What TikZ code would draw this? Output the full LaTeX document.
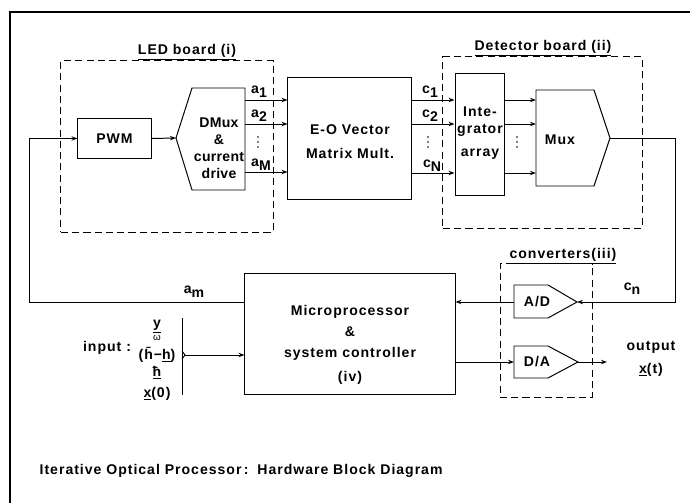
\documentclass[tikz,border=0pt]{standalone}
\usepackage{fontspec}
\setmainfont[LetterSpace=7]{Liberation Sans}
\usetikzlibrary{arrows.meta,positioning,calc}
\newcommand\lowsub[1]{\raisebox{-.5ex}{#1}}
\tikzset{
  >={Stealth[length=1.5mm,width=1.1mm]},
  block/.style={draw,line width=.7pt,inner sep=0pt},
  board/.style={draw,line width=.7pt,dash pattern=on 5pt off 3pt,inner sep=0pt},
  wire/.style={line width=.7pt},
  flow/.style={->,line width=.7pt},
  tag/.style={inner sep=1pt},
  lines/.style={align=center,inner sep=0pt},
}
\newcommand\dotcol[2]{\fill (#1,#2-5) circle (.9) (#1,#2) circle (.9) (#1,#2+5) circle (.9);}
\begin{document}
\begin{tikzpicture}[x=0.025cm,y=-0.025cm,font=\fontsize{10}{12}\selectfont\bfseries]
  \useasboundingbox (0,0) rectangle (690,503);
  \draw[line width=1.2pt] (10,503) -- (10,12) -- (690,12);

  % boards (dashed)
  \node[board,minimum width=5.3cm,minimum height=4.275cm] (led) at (167,146.5) {};
  \node[tag] (ledlab) at (187,52) {\underline{LED board (i)}};
  \node[board,minimum width=4.975cm,minimum height=4.275cm] (det) at (542.5,142.5) {};
  \node[tag] (detlab) at (543,48) {\underline{Detector board (ii)}};
  \node[board,minimum width=2.3cm,minimum height=3.325cm] (conv) at (546,330.5) {};
  \node[tag] (convlab) at (563,256) {\underline{converters(iii)}};

  % blocks
  \node[block,minimum width=1.825cm,minimum height=0.975cm] (pwm) at (114.5,138.5) {PWM};
  \draw[wire] (176,138) coordinate (dmuxtip) -- (192,88) -- (245,88) -- (245,190) -- (192,190) -- cycle;
  \node[lines,font=\fontsize{10}{12}\selectfont\bfseries\addfontfeatures{LetterSpace=2}] (dmux) at (219,148)
    {DMux\\\&\\current\\drive};
  \node[block,minimum width=3.075cm,minimum height=3.025cm] (eo) at (349.5,138.5) {};
  \node[lines] (eotext) at (350,142) {E-O Vector\\[5pt]Matrix Mult.};
  \node[block,minimum width=1.225cm,minimum height=3.025cm] (integ) at (479.5,134.5) {};
  \node[lines] (integtext) at (480,133) {Inte-\\grator\\[4pt]array};
  \draw[wire] (536,90) coordinate (muxnw) -- (594,90) -- (610,138) coordinate (muxtip)
    -- (594,186) -- (536,186) -- cycle;
  \node (mux) at (560,140) {Mux};

  \node[block,minimum width=5.25cm,minimum height=3cm] (micro) at (350,334) {};
  \node[lines] (microtext) at (350,345) {Microprocessor\\[3pt]\&\\[3pt]system controller\\[5pt](iv)};

  \draw[wire] (514,285) coordinate (adw) -- (548,285) -- (577,302) coordinate (adtip)
    -- (548,318) -- (514,318) -- cycle;
  \node (ad) at (537,302) {A/D};
  \draw[wire] (514,346) -- (548,346) -- (578,362) coordinate (datip)
    -- (548,378) -- (514,378) -- cycle;
  \coordinate (dain) at (514,362);
  \node (da) at (537,362) {D/A};

  % LED side
  \draw[flow] (pwm.east) -- (dmuxtip);
  \coordinate (dmuxe) at (245,138);
  \draw[flow] (dmuxe |- 0,100) -- (eo.west |- 0,100);
  \draw[flow] (dmuxe |- 0,124) -- (eo.west |- 0,124);
  \draw[flow] (dmuxe |- 0,172) -- (eo.west |- 0,172);
  \node[tag] (a1) at (259,92) {a\lowsub{1}};
  \node[tag] (a2) at (259,116) {a\lowsub{2}};
  \dotcol{258}{142}
  \node[tag] (aM) at (261,165) {a\lowsub{M}};

  % detector side
  \draw[flow] (eo.east |- 0,100) -- (integ.west |- 0,100);
  \draw[flow] (eo.east |- 0,124) -- (integ.west |- 0,124);
  \draw[flow] (eo.east |- 0,173) -- (integ.west |- 0,173);
  \node[tag] (c1) at (430,92) {c\lowsub{1}};
  \node[tag] (c2) at (430,116) {c\lowsub{2}};
  \dotcol{428}{142}
  \node[tag] (cN) at (432,166) {c\lowsub{N}};
  \draw[flow] (integ.east |- 0,100) -- (muxnw |- 0,100);
  \draw[flow] (integ.east |- 0,124) -- (muxnw |- 0,124);
  \draw[flow] (integ.east |- 0,173) -- (muxnw |- 0,173);
  \dotcol{517}{142}

  % loop through converters and processor
  \draw[flow] (muxtip) -- (675,138) |- (adtip);
  \node[tag] (cn) at (632,289) {c\lowsub{n}};
  \draw[flow] (adw |- adtip) -- (micro.east |- adtip);
  \draw[flow] (micro.east |- dain) -- (dain);
  \coordinate (outend) at (607,362);
  \draw[flow] (datip) -- (outend);
  \node[lines] (output) at (651,359) {output\\[4pt]\underline{x}(t)};

  \coordinate (amout) at (micro.west |- adtip);
  \draw[flow] (amout) -- ++(-215,0) |- (pwm.west);
  \node[tag] (am) at (194,292) {a\lowsub{m}};

  % inputs
  \draw[wire] (182,318) -- (182,395);
  \draw[wire] (182,351) -- (185,355) -- (182,359);
  \coordinate (inpt) at (185,355);
  \draw[flow] (inpt) -- (micro.west |- inpt);
  \node[tag] (inlab) at (107,348) {input :};
  \node[tag] (iny) at (157,327) {\underline{y}};
  \node[tag,font=\scriptsize] (inw) at (157,338) {ω};
  \node[tag] (inh) at (157,355) {(\={h}−\underline{h})};
  \node[tag] (inhb) at (157,373) {\underline{ħ}};
  \node[tag] (inx) at (157,394) {\underline{x}(0)};

  \node[tag,anchor=west] (caption) at (38,471) {Iterative Optical Processor\,:\, Hardware Block Diagram};
\end{tikzpicture}
\end{document}
